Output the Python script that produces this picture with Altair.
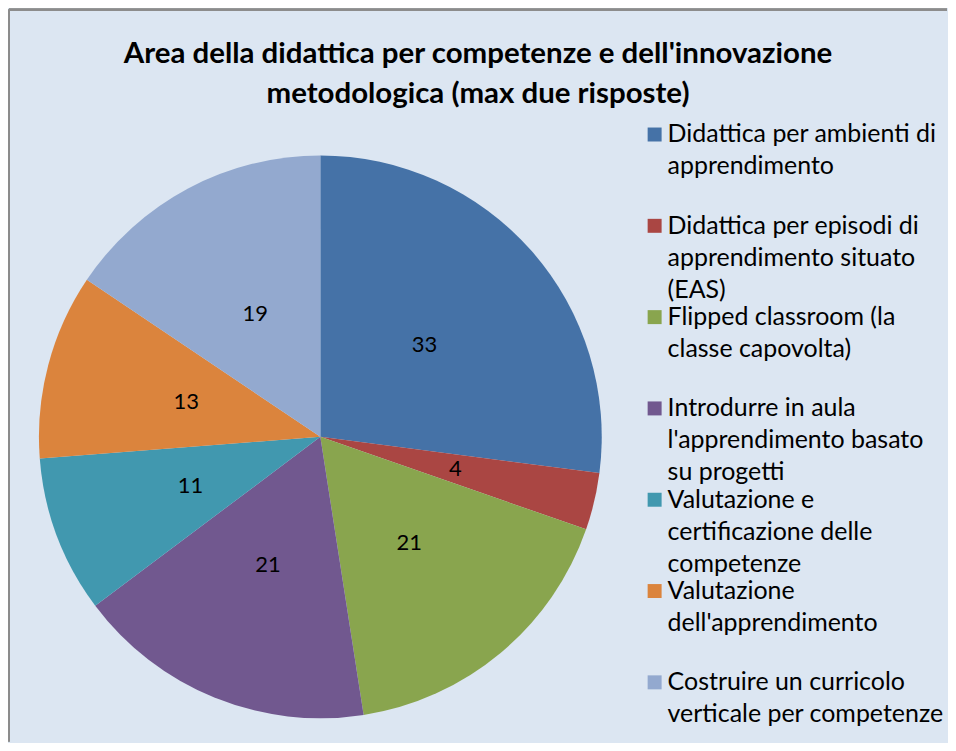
import altair as alt
import pandas as pd

categories = [
    "Didattica per ambienti di apprendimento",
    "Didattica per episodi di apprendimento situato (EAS)",
    "Flipped classroom (la classe capovolta)",
    "Introdurre in aula l'apprendimento basato su progetti",
    "Valutazione e certificazione delle competenze",
    "Valutazione dell'apprendimento",
    "Costruire un curricolo verticale per competenze",
]
legend_labels = [
    "Didattica per ambienti di\napprendimento",
    "Didattica per episodi di\napprendimento situato\n(EAS)",
    "Flipped classroom (la\nclasse capovolta)",
    "Introdurre in aula\nl'apprendimento basato\nsu progetti",
    "Valutazione e\ncertificazione delle\ncompetenze",
    "Valutazione\ndell'apprendimento",
    "Costruire un curricolo\nverticale per competenze",
]
values = [33, 4, 21, 21, 11, 13, 19]
colors = ["#4572a7", "#aa4643", "#89a54e", "#71588f", "#4198af", "#db843d", "#93a9cf"]

df = pd.DataFrame({
    "cat": categories,
    "label": legend_labels,
    "value": values,
    "idx": list(range(len(values))),
})

FONT = "Lato"
V = 100          # view top offset inside canvas
H = 634          # view height
W = 940
CX, CY = 312, 429 - V
R = 282

color = alt.Color("cat:N", scale=alt.Scale(domain=categories, range=colors), legend=None)
base = alt.Chart(df)

pie = base.mark_arc(outerRadius=R).encode(
    theta=alt.Theta("value:Q", stack=True),
    color=color,
    order=alt.Order("idx:Q"),
    x=alt.value(CX), y=alt.value(CY),
)

nums = base.mark_text(radius=139, fontSize=22, font=FONT, color="black").encode(
    theta=alt.Theta("value:Q", stack=True),
    text="value:Q",
    order=alt.Order("idx:Q"),
    x=alt.value(CX), y=alt.value(CY),
)

yleg = alt.Y("cat:N", scale=alt.Scale(domain=categories, range=[126 - V, 675 - V], padding=0), axis=None)

leg_sym = base.mark_square(size=196, opacity=1, filled=True).encode(
    x=alt.value(647), y=yleg, color=color,
)
leg_txt = base.mark_text(align="left", baseline="alphabetic", fontSize=25, font=FONT,
                         lineHeight=32, lineBreak="\n", dy=8, color="black").encode(
    x=alt.value(660), y=yleg, text="label:N",
)

border_left = alt.Chart(df).mark_rule(color="#8c8c8c", strokeWidth=2).encode(
    x=alt.value(0), y=alt.value(-V + 1), y2=alt.value(H)
)
border_top = alt.Chart(df).mark_rule(color="#8c8c8c", strokeWidth=2).encode(
    x=alt.value(0), x2=alt.value(W), y=alt.value(-V + 1)
)

chart = alt.layer(pie, nums, leg_sym, leg_txt, border_left, border_top).properties(
    width=W, height=H,
    padding={"left": 0, "top": 0, "right": 0, "bottom": 0},
    title=alt.TitleParams(
        text=["Area della didattica per competenze e dell'innovazione",
              "metodologica (max due risposte)"],
        font=FONT, fontSize=29.5, fontWeight="bold", lineHeight=40,
        anchor="middle", frame="group", offset=4, dy=105, color="black",
    ),
).configure(background="#dce6f2").configure_view(stroke="transparent")

chart.save("out.html", embed_options={"renderer": "svg", "actions": False})
